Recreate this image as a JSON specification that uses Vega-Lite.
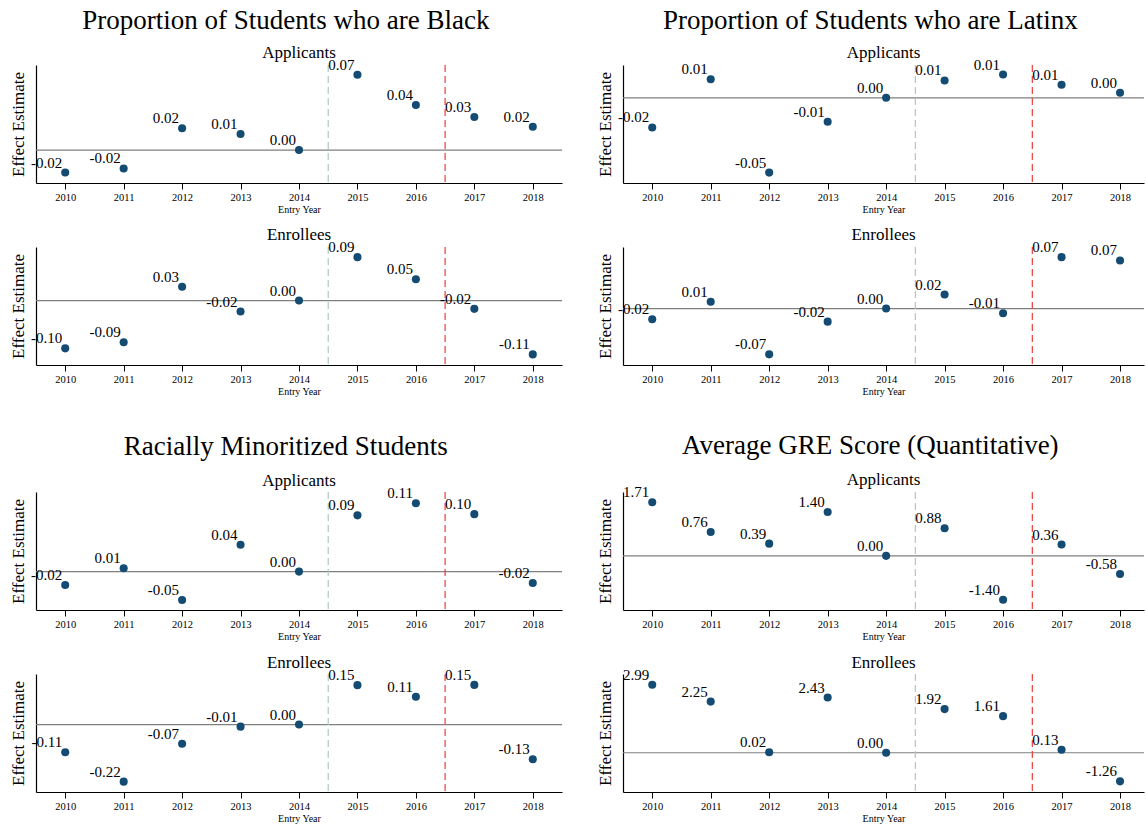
{
  "$schema": "https://vega.github.io/schema/vega-lite/v6.json",
  "background": "white",
  "padding": {"left": 9, "top": 6, "right": 0, "bottom": 2},
  "config": {
    "font": "Liberation Serif",
    "view": {"stroke": null},
    "axis": {"grid": false, "domainColor": "#000000", "domainWidth": 1.2, "tickColor": "#000000", "labelFont": "Liberation Serif", "titleFont": "Liberation Serif", "titleFontWeight": "normal", "labelColor": "#000000", "titleColor": "#000000"},
    "axisX": {"labelFontSize": 10.5, "titleFontSize": 10, "tickSize": 6, "tickWidth": 1, "labelPadding": 3, "titlePadding": 2},
    "axisY": {"labels": false, "ticks": false, "titleFontSize": 17, "titlePadding": 9},
    "title": {"font": "Liberation Serif", "fontWeight": "normal", "fontSize": 17, "color": "#000000", "offset": -4, "anchor": "middle"},
    "concat": {"spacing": 11}
  },
  "datasets": {
    "one": [{"k": 1}],
    "pts": [
      {"g": "Black", "p": "Applicants", "year": 2010, "est": -0.0203, "lab": "-0.02"},
      {"g": "Black", "p": "Applicants", "year": 2011, "est": -0.0166, "lab": "-0.02"},
      {"g": "Black", "p": "Applicants", "year": 2012, "est": 0.0197, "lab": "0.02"},
      {"g": "Black", "p": "Applicants", "year": 2013, "est": 0.0145, "lab": "0.01"},
      {"g": "Black", "p": "Applicants", "year": 2014, "est": 0, "lab": "0.00"},
      {"g": "Black", "p": "Applicants", "year": 2015, "est": 0.0679, "lab": "0.07"},
      {"g": "Black", "p": "Applicants", "year": 2016, "est": 0.0406, "lab": "0.04"},
      {"g": "Black", "p": "Applicants", "year": 2017, "est": 0.0297, "lab": "0.03"},
      {"g": "Black", "p": "Applicants", "year": 2018, "est": 0.0209, "lab": "0.02"},
      {"g": "Black", "p": "Enrollees", "year": 2010, "est": -0.1015, "lab": "-0.10"},
      {"g": "Black", "p": "Enrollees", "year": 2011, "est": -0.0887, "lab": "-0.09"},
      {"g": "Black", "p": "Enrollees", "year": 2012, "est": 0.0291, "lab": "0.03"},
      {"g": "Black", "p": "Enrollees", "year": 2013, "est": -0.0234, "lab": "-0.02"},
      {"g": "Black", "p": "Enrollees", "year": 2014, "est": 0, "lab": "0.00"},
      {"g": "Black", "p": "Enrollees", "year": 2015, "est": 0.0921, "lab": "0.09"},
      {"g": "Black", "p": "Enrollees", "year": 2016, "est": 0.0453, "lab": "0.05"},
      {"g": "Black", "p": "Enrollees", "year": 2017, "est": -0.0177, "lab": "-0.02"},
      {"g": "Black", "p": "Enrollees", "year": 2018, "est": -0.1143, "lab": "-0.11"},
      {"g": "Latinx", "p": "Applicants", "year": 2010, "est": -0.0182, "lab": "-0.02"},
      {"g": "Latinx", "p": "Applicants", "year": 2011, "est": 0.0114, "lab": "0.01"},
      {"g": "Latinx", "p": "Applicants", "year": 2012, "est": -0.046, "lab": "-0.05"},
      {"g": "Latinx", "p": "Applicants", "year": 2013, "est": -0.0147, "lab": "-0.01"},
      {"g": "Latinx", "p": "Applicants", "year": 2014, "est": 0, "lab": "0.00"},
      {"g": "Latinx", "p": "Applicants", "year": 2015, "est": 0.0107, "lab": "0.01"},
      {"g": "Latinx", "p": "Applicants", "year": 2016, "est": 0.0143, "lab": "0.01"},
      {"g": "Latinx", "p": "Applicants", "year": 2017, "est": 0.0081, "lab": "0.01"},
      {"g": "Latinx", "p": "Applicants", "year": 2018, "est": 0.0031, "lab": "0.00"},
      {"g": "Latinx", "p": "Enrollees", "year": 2010, "est": -0.0154, "lab": "-0.02"},
      {"g": "Latinx", "p": "Enrollees", "year": 2011, "est": 0.0097, "lab": "0.01"},
      {"g": "Latinx", "p": "Enrollees", "year": 2012, "est": -0.0659, "lab": "-0.07"},
      {"g": "Latinx", "p": "Enrollees", "year": 2013, "est": -0.0188, "lab": "-0.02"},
      {"g": "Latinx", "p": "Enrollees", "year": 2014, "est": 0, "lab": "0.00"},
      {"g": "Latinx", "p": "Enrollees", "year": 2015, "est": 0.0202, "lab": "0.02"},
      {"g": "Latinx", "p": "Enrollees", "year": 2016, "est": -0.0068, "lab": "-0.01"},
      {"g": "Latinx", "p": "Enrollees", "year": 2017, "est": 0.074, "lab": "0.07"},
      {"g": "Latinx", "p": "Enrollees", "year": 2018, "est": 0.0693, "lab": "0.07"},
      {"g": "Minor", "p": "Applicants", "year": 2010, "est": -0.0222, "lab": "-0.02"},
      {"g": "Minor", "p": "Applicants", "year": 2011, "est": 0.0055, "lab": "0.01"},
      {"g": "Minor", "p": "Applicants", "year": 2012, "est": -0.0472, "lab": "-0.05"},
      {"g": "Minor", "p": "Applicants", "year": 2013, "est": 0.0445, "lab": "0.04"},
      {"g": "Minor", "p": "Applicants", "year": 2014, "est": 0, "lab": "0.00"},
      {"g": "Minor", "p": "Applicants", "year": 2015, "est": 0.0935, "lab": "0.09"},
      {"g": "Minor", "p": "Applicants", "year": 2016, "est": 0.1135, "lab": "0.11"},
      {"g": "Minor", "p": "Applicants", "year": 2017, "est": 0.0955, "lab": "0.10"},
      {"g": "Minor", "p": "Applicants", "year": 2018, "est": -0.0188, "lab": "-0.02"},
      {"g": "Minor", "p": "Enrollees", "year": 2010, "est": -0.107, "lab": "-0.11"},
      {"g": "Minor", "p": "Enrollees", "year": 2011, "est": -0.22, "lab": "-0.22"},
      {"g": "Minor", "p": "Enrollees", "year": 2012, "est": -0.074, "lab": "-0.07"},
      {"g": "Minor", "p": "Enrollees", "year": 2013, "est": -0.008, "lab": "-0.01"},
      {"g": "Minor", "p": "Enrollees", "year": 2014, "est": 0, "lab": "0.00"},
      {"g": "Minor", "p": "Enrollees", "year": 2015, "est": 0.152, "lab": "0.15"},
      {"g": "Minor", "p": "Enrollees", "year": 2016, "est": 0.107, "lab": "0.11"},
      {"g": "Minor", "p": "Enrollees", "year": 2017, "est": 0.153, "lab": "0.15"},
      {"g": "Minor", "p": "Enrollees", "year": 2018, "est": -0.134, "lab": "-0.13"},
      {"g": "GRE", "p": "Applicants", "year": 2010, "est": 1.71, "lab": "1.71"},
      {"g": "GRE", "p": "Applicants", "year": 2011, "est": 0.76, "lab": "0.76"},
      {"g": "GRE", "p": "Applicants", "year": 2012, "est": 0.39, "lab": "0.39"},
      {"g": "GRE", "p": "Applicants", "year": 2013, "est": 1.4, "lab": "1.40"},
      {"g": "GRE", "p": "Applicants", "year": 2014, "est": 0, "lab": "0.00"},
      {"g": "GRE", "p": "Applicants", "year": 2015, "est": 0.88, "lab": "0.88"},
      {"g": "GRE", "p": "Applicants", "year": 2016, "est": -1.4, "lab": "-1.40"},
      {"g": "GRE", "p": "Applicants", "year": 2017, "est": 0.36, "lab": "0.36"},
      {"g": "GRE", "p": "Applicants", "year": 2018, "est": -0.58, "lab": "-0.58"},
      {"g": "GRE", "p": "Enrollees", "year": 2010, "est": 2.99, "lab": "2.99"},
      {"g": "GRE", "p": "Enrollees", "year": 2011, "est": 2.25, "lab": "2.25"},
      {"g": "GRE", "p": "Enrollees", "year": 2012, "est": 0.02, "lab": "0.02"},
      {"g": "GRE", "p": "Enrollees", "year": 2013, "est": 2.43, "lab": "2.43"},
      {"g": "GRE", "p": "Enrollees", "year": 2014, "est": 0, "lab": "0.00"},
      {"g": "GRE", "p": "Enrollees", "year": 2015, "est": 1.92, "lab": "1.92"},
      {"g": "GRE", "p": "Enrollees", "year": 2016, "est": 1.61, "lab": "1.61"},
      {"g": "GRE", "p": "Enrollees", "year": 2017, "est": 0.13, "lab": "0.13"},
      {"g": "GRE", "p": "Enrollees", "year": 2018, "est": -1.26, "lab": "-1.26"}
    ]
  },
  "spacing": 35,
  "vconcat": [
    {
      "spacing": 33,
      "hconcat": [
        {
          "title": {"text": "Proportion of Students who are Black", "fontSize": 27, "anchor": "middle", "offset": 9},
          "spacing": 11,
          "vconcat": [
            {
              "title": "Applicants", "width": 526, "height": 118, "data": {"name": "pts"},
              "layer": [
                {"data": {"name": "one"}, "mark": {"type": "rule", "color": "#7f7f7f", "strokeWidth": 1.2}, "encoding": {"y": {"datum": 0}}},
                {"data": {"name": "one"}, "mark": {"type": "rule", "color": "#b3c6c0", "strokeDash": [7, 4], "strokeWidth": 1.2}, "encoding": {"x": {"datum": 2014.5}}},
                {"data": {"name": "one"}, "mark": {"type": "rule", "color": "#ee3b3b", "strokeDash": [7, 4], "strokeWidth": 1.2}, "encoding": {"x": {"datum": 2016.5}}},
                {"transform": [{"filter": "datum.g === 'Black' && datum.p === 'Applicants'"}], "mark": {"type": "point", "filled": true, "size": 65, "color": "#134b73", "opacity": 1},
                 "encoding": {"x": {"field": "year", "type": "quantitative", "scale": {"domain": [2009.5, 2018.5], "nice": false, "zero": false}, "axis": {"values": [2010, 2011, 2012, 2013, 2014, 2015, 2016, 2017, 2018], "format": "d", "title": "Entry Year"}},
                              "y": {"field": "est", "type": "quantitative", "scale": {"domain": [-0.0297, 0.0766], "nice": false, "zero": false}, "axis": {"title": "Effect Estimate"}}}},
                {"transform": [{"filter": "datum.g === 'Black' && datum.p === 'Applicants'"}], "mark": {"type": "text", "align": "right", "baseline": "alphabetic", "dx": -3, "dy": -5, "fontSize": 15, "color": "#000000"},
                 "encoding": {"x": {"field": "year", "type": "quantitative"}, "y": {"field": "est", "type": "quantitative"}, "text": {"field": "lab"}}}
              ]
            },
            {
              "title": "Enrollees", "width": 526, "height": 118, "data": {"name": "pts"},
              "layer": [
                {"data": {"name": "one"}, "mark": {"type": "rule", "color": "#7f7f7f", "strokeWidth": 1.2}, "encoding": {"y": {"datum": 0}}},
                {"data": {"name": "one"}, "mark": {"type": "rule", "color": "#b3c6c0", "strokeDash": [7, 4], "strokeWidth": 1.2}, "encoding": {"x": {"datum": 2014.5}}},
                {"data": {"name": "one"}, "mark": {"type": "rule", "color": "#ee3b3b", "strokeDash": [7, 4], "strokeWidth": 1.2}, "encoding": {"x": {"datum": 2016.5}}},
                {"transform": [{"filter": "datum.g === 'Black' && datum.p === 'Enrollees'"}], "mark": {"type": "point", "filled": true, "size": 65, "color": "#134b73", "opacity": 1},
                 "encoding": {"x": {"field": "year", "type": "quantitative", "scale": {"domain": [2009.5, 2018.5], "nice": false, "zero": false}, "axis": {"values": [2010, 2011, 2012, 2013, 2014, 2015, 2016, 2017, 2018], "format": "d", "title": "Entry Year"}},
                              "y": {"field": "est", "type": "quantitative", "scale": {"domain": [-0.1368, 0.1136], "nice": false, "zero": false}, "axis": {"title": "Effect Estimate"}}}},
                {"transform": [{"filter": "datum.g === 'Black' && datum.p === 'Enrollees'"}], "mark": {"type": "text", "align": "right", "baseline": "alphabetic", "dx": -3, "dy": -5, "fontSize": 15, "color": "#000000"},
                 "encoding": {"x": {"field": "year", "type": "quantitative"}, "y": {"field": "est", "type": "quantitative"}, "text": {"field": "lab"}}}
              ]
            }
          ]
        },
        {
          "title": {"text": "Proportion of Students who are Latinx", "fontSize": 27, "anchor": "middle", "offset": 9},
          "spacing": 11,
          "vconcat": [
            {
              "title": "Applicants", "width": 521, "height": 118, "data": {"name": "pts"},
              "layer": [
                {"data": {"name": "one"}, "mark": {"type": "rule", "color": "#7f7f7f", "strokeWidth": 1.2}, "encoding": {"y": {"datum": 0}}},
                {"data": {"name": "one"}, "mark": {"type": "rule", "color": "#b3c6c0", "strokeDash": [7, 4], "strokeWidth": 1.2}, "encoding": {"x": {"datum": 2014.5}}},
                {"data": {"name": "one"}, "mark": {"type": "rule", "color": "#ee3b3b", "strokeDash": [7, 4], "strokeWidth": 1.2}, "encoding": {"x": {"datum": 2016.5}}},
                {"transform": [{"filter": "datum.g === 'Latinx' && datum.p === 'Applicants'"}], "mark": {"type": "point", "filled": true, "size": 65, "color": "#134b73", "opacity": 1},
                 "encoding": {"x": {"field": "year", "type": "quantitative", "scale": {"domain": [2009.5, 2018.41], "nice": false, "zero": false}, "axis": {"values": [2010, 2011, 2012, 2013, 2014, 2015, 2016, 2017, 2018], "format": "d", "title": "Entry Year"}},
                              "y": {"field": "est", "type": "quantitative", "scale": {"domain": [-0.0524, 0.0202], "nice": false, "zero": false}, "axis": {"title": "Effect Estimate"}}}},
                {"transform": [{"filter": "datum.g === 'Latinx' && datum.p === 'Applicants'"}], "mark": {"type": "text", "align": "right", "baseline": "alphabetic", "dx": -3, "dy": -5, "fontSize": 15, "color": "#000000"},
                 "encoding": {"x": {"field": "year", "type": "quantitative"}, "y": {"field": "est", "type": "quantitative"}, "text": {"field": "lab"}}}
              ]
            },
            {
              "title": "Enrollees", "width": 521, "height": 118, "data": {"name": "pts"},
              "layer": [
                {"data": {"name": "one"}, "mark": {"type": "rule", "color": "#7f7f7f", "strokeWidth": 1.2}, "encoding": {"y": {"datum": 0}}},
                {"data": {"name": "one"}, "mark": {"type": "rule", "color": "#b3c6c0", "strokeDash": [7, 4], "strokeWidth": 1.2}, "encoding": {"x": {"datum": 2014.5}}},
                {"data": {"name": "one"}, "mark": {"type": "rule", "color": "#ee3b3b", "strokeDash": [7, 4], "strokeWidth": 1.2}, "encoding": {"x": {"datum": 2016.5}}},
                {"transform": [{"filter": "datum.g === 'Latinx' && datum.p === 'Enrollees'"}], "mark": {"type": "point", "filled": true, "size": 65, "color": "#134b73", "opacity": 1},
                 "encoding": {"x": {"field": "year", "type": "quantitative", "scale": {"domain": [2009.5, 2018.41], "nice": false, "zero": false}, "axis": {"values": [2010, 2011, 2012, 2013, 2014, 2015, 2016, 2017, 2018], "format": "d", "title": "Entry Year"}},
                              "y": {"field": "est", "type": "quantitative", "scale": {"domain": [-0.0812, 0.0886], "nice": false, "zero": false}, "axis": {"title": "Effect Estimate"}}}},
                {"transform": [{"filter": "datum.g === 'Latinx' && datum.p === 'Enrollees'"}], "mark": {"type": "text", "align": "right", "baseline": "alphabetic", "dx": -3, "dy": -5, "fontSize": 15, "color": "#000000"},
                 "encoding": {"x": {"field": "year", "type": "quantitative"}, "y": {"field": "est", "type": "quantitative"}, "text": {"field": "lab"}}}
              ]
            }
          ]
        }
      ]
    },
    {
      "spacing": 33,
      "hconcat": [
        {
          "title": {"text": "Racially Minoritized Students", "fontSize": 27, "anchor": "middle", "offset": 11},
          "spacing": 11,
          "vconcat": [
            {
              "title": "Applicants", "width": 526, "height": 118, "data": {"name": "pts"},
              "layer": [
                {"data": {"name": "one"}, "mark": {"type": "rule", "color": "#7f7f7f", "strokeWidth": 1.2}, "encoding": {"y": {"datum": 0}}},
                {"data": {"name": "one"}, "mark": {"type": "rule", "color": "#b3c6c0", "strokeDash": [7, 4], "strokeWidth": 1.2}, "encoding": {"x": {"datum": 2014.5}}},
                {"data": {"name": "one"}, "mark": {"type": "rule", "color": "#ee3b3b", "strokeDash": [7, 4], "strokeWidth": 1.2}, "encoding": {"x": {"datum": 2016.5}}},
                {"transform": [{"filter": "datum.g === 'Minor' && datum.p === 'Applicants'"}], "mark": {"type": "point", "filled": true, "size": 65, "color": "#134b73", "opacity": 1},
                 "encoding": {"x": {"field": "year", "type": "quantitative", "scale": {"domain": [2009.5, 2018.5], "nice": false, "zero": false}, "axis": {"values": [2010, 2011, 2012, 2013, 2014, 2015, 2016, 2017, 2018], "format": "d", "title": "Entry Year"}},
                              "y": {"field": "est", "type": "quantitative", "scale": {"domain": [-0.0638, 0.1323], "nice": false, "zero": false}, "axis": {"title": "Effect Estimate"}}}},
                {"transform": [{"filter": "datum.g === 'Minor' && datum.p === 'Applicants'"}], "mark": {"type": "text", "align": "right", "baseline": "alphabetic", "dx": -3, "dy": -5, "fontSize": 15, "color": "#000000"},
                 "encoding": {"x": {"field": "year", "type": "quantitative"}, "y": {"field": "est", "type": "quantitative"}, "text": {"field": "lab"}}}
              ]
            },
            {
              "title": "Enrollees", "width": 526, "height": 118, "data": {"name": "pts"},
              "layer": [
                {"data": {"name": "one"}, "mark": {"type": "rule", "color": "#7f7f7f", "strokeWidth": 1.2}, "encoding": {"y": {"datum": 0}}},
                {"data": {"name": "one"}, "mark": {"type": "rule", "color": "#b3c6c0", "strokeDash": [7, 4], "strokeWidth": 1.2}, "encoding": {"x": {"datum": 2014.5}}},
                {"data": {"name": "one"}, "mark": {"type": "rule", "color": "#ee3b3b", "strokeDash": [7, 4], "strokeWidth": 1.2}, "encoding": {"x": {"datum": 2016.5}}},
                {"transform": [{"filter": "datum.g === 'Minor' && datum.p === 'Enrollees'"}], "mark": {"type": "point", "filled": true, "size": 65, "color": "#134b73", "opacity": 1},
                 "encoding": {"x": {"field": "year", "type": "quantitative", "scale": {"domain": [2009.5, 2018.5], "nice": false, "zero": false}, "axis": {"values": [2010, 2011, 2012, 2013, 2014, 2015, 2016, 2017, 2018], "format": "d", "title": "Entry Year"}},
                              "y": {"field": "est", "type": "quantitative", "scale": {"domain": [-0.26, 0.195], "nice": false, "zero": false}, "axis": {"title": "Effect Estimate"}}}},
                {"transform": [{"filter": "datum.g === 'Minor' && datum.p === 'Enrollees'"}], "mark": {"type": "text", "align": "right", "baseline": "alphabetic", "dx": -3, "dy": -5, "fontSize": 15, "color": "#000000"},
                 "encoding": {"x": {"field": "year", "type": "quantitative"}, "y": {"field": "est", "type": "quantitative"}, "text": {"field": "lab"}}}
              ]
            }
          ]
        },
        {
          "title": {"text": "Average GRE Score (Quantitative)", "fontSize": 27, "anchor": "middle", "offset": 11},
          "spacing": 11,
          "vconcat": [
            {
              "title": "Applicants", "width": 521, "height": 118, "data": {"name": "pts"},
              "layer": [
                {"data": {"name": "one"}, "mark": {"type": "rule", "color": "#7f7f7f", "strokeWidth": 1.2}, "encoding": {"y": {"datum": 0}}},
                {"data": {"name": "one"}, "mark": {"type": "rule", "color": "#b3c6c0", "strokeDash": [7, 4], "strokeWidth": 1.2}, "encoding": {"x": {"datum": 2014.5}}},
                {"data": {"name": "one"}, "mark": {"type": "rule", "color": "#ee3b3b", "strokeDash": [7, 4], "strokeWidth": 1.2}, "encoding": {"x": {"datum": 2016.5}}},
                {"transform": [{"filter": "datum.g === 'GRE' && datum.p === 'Applicants'"}], "mark": {"type": "point", "filled": true, "size": 65, "color": "#134b73", "opacity": 1},
                 "encoding": {"x": {"field": "year", "type": "quantitative", "scale": {"domain": [2009.5, 2018.41], "nice": false, "zero": false}, "axis": {"values": [2010, 2011, 2012, 2013, 2014, 2015, 2016, 2017, 2018], "format": "d", "title": "Entry Year"}},
                              "y": {"field": "est", "type": "quantitative", "scale": {"domain": [-1.73, 2.04], "nice": false, "zero": false}, "axis": {"title": "Effect Estimate"}}}},
                {"transform": [{"filter": "datum.g === 'GRE' && datum.p === 'Applicants'"}], "mark": {"type": "text", "align": "right", "baseline": "alphabetic", "dx": -3, "dy": -5, "fontSize": 15, "color": "#000000"},
                 "encoding": {"x": {"field": "year", "type": "quantitative"}, "y": {"field": "est", "type": "quantitative"}, "text": {"field": "lab"}}}
              ]
            },
            {
              "title": "Enrollees", "width": 521, "height": 118, "data": {"name": "pts"},
              "layer": [
                {"data": {"name": "one"}, "mark": {"type": "rule", "color": "#7f7f7f", "strokeWidth": 1.2}, "encoding": {"y": {"datum": 0}}},
                {"data": {"name": "one"}, "mark": {"type": "rule", "color": "#b3c6c0", "strokeDash": [7, 4], "strokeWidth": 1.2}, "encoding": {"x": {"datum": 2014.5}}},
                {"data": {"name": "one"}, "mark": {"type": "rule", "color": "#ee3b3b", "strokeDash": [7, 4], "strokeWidth": 1.2}, "encoding": {"x": {"datum": 2016.5}}},
                {"transform": [{"filter": "datum.g === 'GRE' && datum.p === 'Enrollees'"}], "mark": {"type": "point", "filled": true, "size": 65, "color": "#134b73", "opacity": 1},
                 "encoding": {"x": {"field": "year", "type": "quantitative", "scale": {"domain": [2009.5, 2018.41], "nice": false, "zero": false}, "axis": {"values": [2010, 2011, 2012, 2013, 2014, 2015, 2016, 2017, 2018], "format": "d", "title": "Entry Year"}},
                              "y": {"field": "est", "type": "quantitative", "scale": {"domain": [-1.728, 3.465], "nice": false, "zero": false}, "axis": {"title": "Effect Estimate"}}}},
                {"transform": [{"filter": "datum.g === 'GRE' && datum.p === 'Enrollees'"}], "mark": {"type": "text", "align": "right", "baseline": "alphabetic", "dx": -3, "dy": -5, "fontSize": 15, "color": "#000000"},
                 "encoding": {"x": {"field": "year", "type": "quantitative"}, "y": {"field": "est", "type": "quantitative"}, "text": {"field": "lab"}}}
              ]
            }
          ]
        }
      ]
    }
  ]
}
